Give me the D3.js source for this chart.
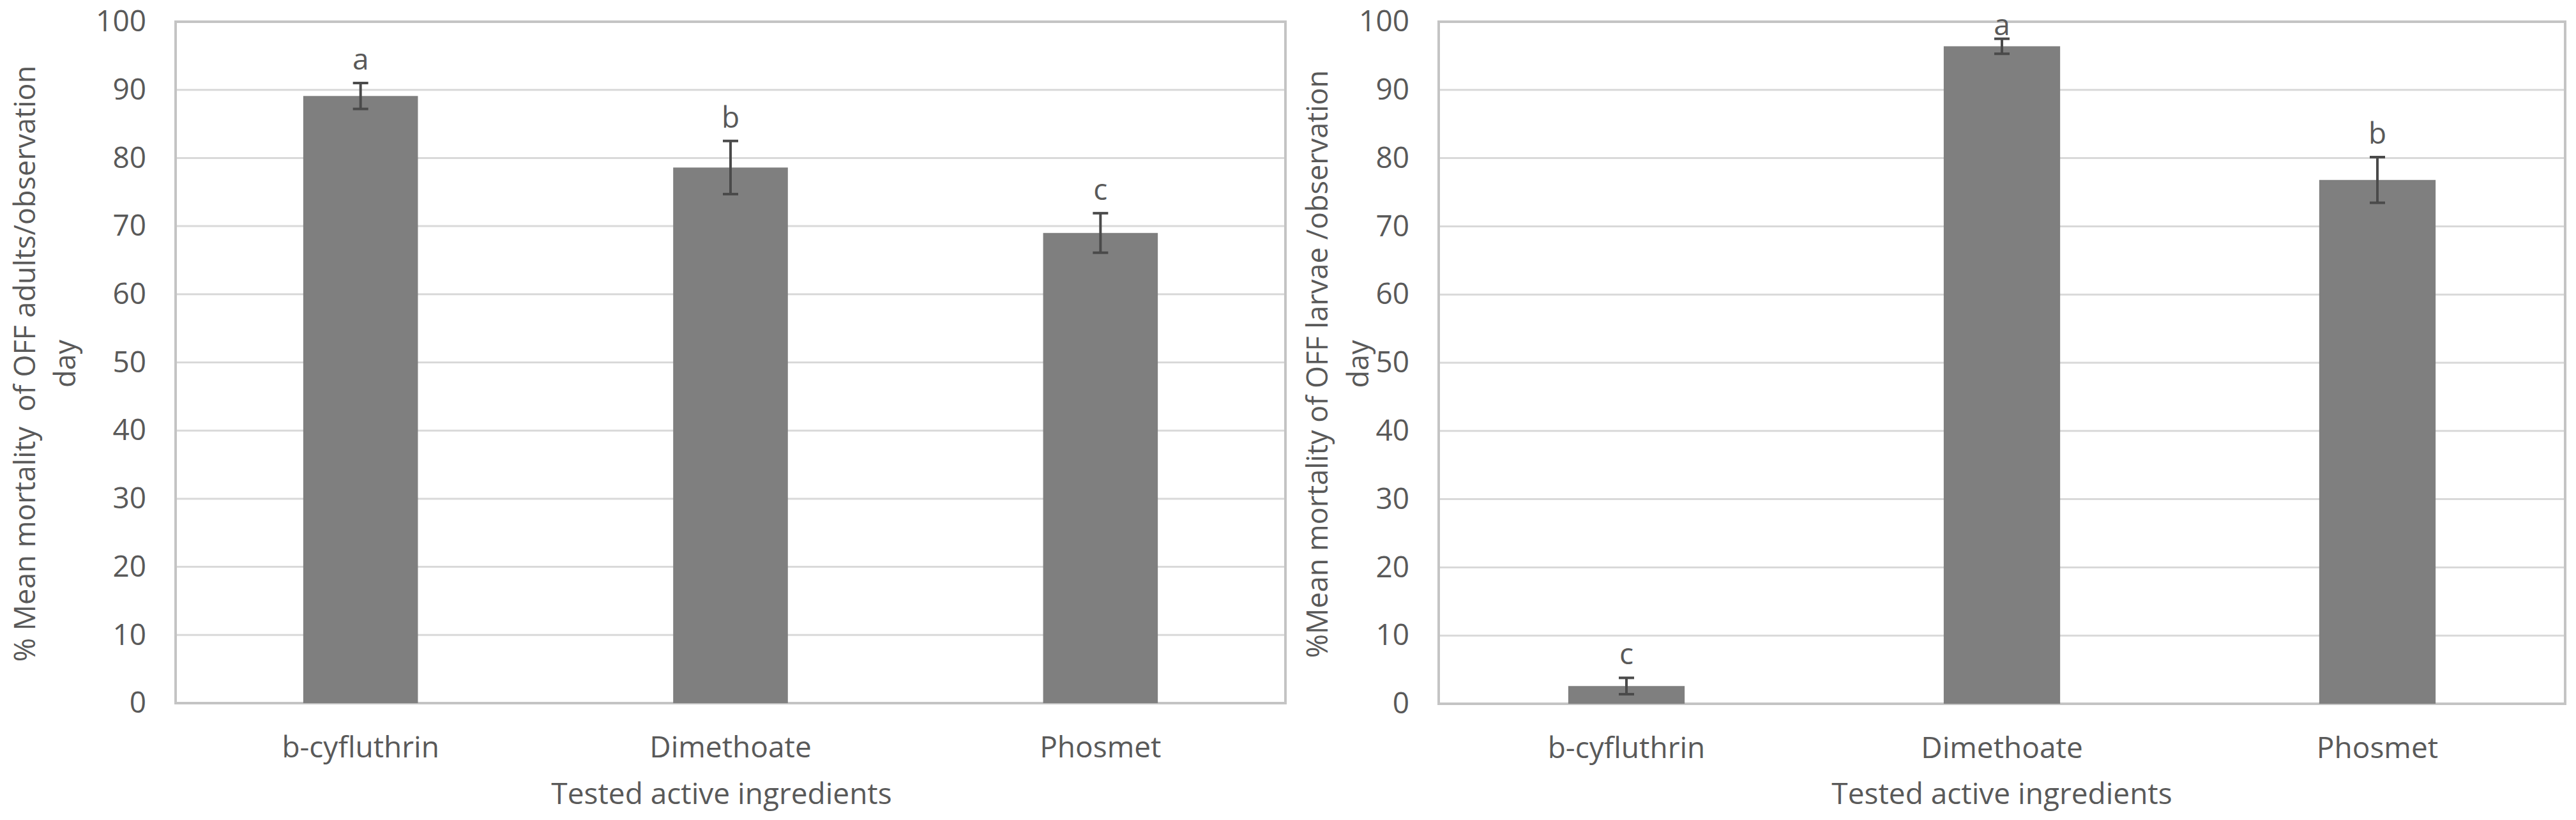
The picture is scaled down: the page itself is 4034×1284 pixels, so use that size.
<!DOCTYPE html>
<html>
<head>
<meta charset="utf-8">
<script src="https://cdn.jsdelivr.net/npm/d3@7"></script>
<style>
  html, body { margin: 0; padding: 0; background: #ffffff; }
  svg { display: block; }
  text { font-family: "Open Sans", "Noto Sans", sans-serif; fill: #595959; }
</style>
</head>
<body>
<svg id="chart" width="4034" height="1284"></svg>
<script>
// ---- data ----
const categories = ["b-cyfluthrin", "Dimethoate", "Phosmet"];
const adultMeans = [89.1, 78.6, 69.0];
const adultErrors = [1.9, 3.9, 2.9];
const adultLetters = ["a", "b", "c"];
const larvaeMeans = [2.6, 96.4, 76.8];
const larvaeErrors = [1.2, 1.1, 3.35];
const larvaeLetters = ["c", "a", "b"];
const yTicks = [0, 10, 20, 30, 40, 50, 60, 70, 80, 90, 100];
const xTitle = "Tested active ingredients";
const adultYTitle = ["% Mean mortality  of OFF adults/observation", "day"];
const larvaeYTitle = ["%Mean mortality of OFF larvae /observation", "day"];

// ---- layout ----
const svg = d3.select("#chart");
const FONT = 46;

function panel(cfg) {
  const g = svg.append("g");
  const x = d3.scaleBand().domain(categories)
    .range([cfg.left, cfg.right]).paddingInner(0.69).paddingOuter(0.345);
  const y = d3.scaleLinear().domain([0, 100]).range([cfg.bottom, cfg.top]);

  // gridlines
  g.append("g").selectAll("line").data(yTicks.filter(t => t > 0 && t < 100)).join("line")
    .attr("x1", cfg.left).attr("x2", cfg.right)
    .attr("y1", d => y(d)).attr("y2", d => y(d))
    .attr("stroke", "#d9d9d9").attr("stroke-width", 3);

  // plot border
  g.append("rect")
    .attr("x", cfg.left).attr("y", cfg.top)
    .attr("width", cfg.right - cfg.left).attr("height", cfg.bottom - cfg.top)
    .attr("fill", "none").attr("stroke", "#c4c4c4").attr("stroke-width", 4);

  // bars
  const data = categories.map((c, i) => ({ c, m: cfg.means[i], e: cfg.errors[i], l: cfg.letters[i] }));
  g.append("g").selectAll("rect").data(data).join("rect")
    .attr("x", d => x(d.c)).attr("width", x.bandwidth())
    .attr("y", d => y(d.m)).attr("height", d => y(0) - y(d.m))
    .attr("fill", "#7f7f7f");

  // error bars
  const eb = g.append("g").selectAll("g").data(data).join("g")
    .attr("stroke", "#4a4a4a").attr("stroke-width", 4);
  eb.append("line")
    .attr("x1", d => x(d.c) + x.bandwidth() / 2).attr("x2", d => x(d.c) + x.bandwidth() / 2)
    .attr("y1", d => y(d.m + d.e)).attr("y2", d => y(d.m - d.e));
  eb.append("line")
    .attr("x1", d => x(d.c) + x.bandwidth() / 2 - 12).attr("x2", d => x(d.c) + x.bandwidth() / 2 + 12)
    .attr("y1", d => y(d.m + d.e)).attr("y2", d => y(d.m + d.e));
  eb.append("line")
    .attr("x1", d => x(d.c) + x.bandwidth() / 2 - 12).attr("x2", d => x(d.c) + x.bandwidth() / 2 + 12)
    .attr("y1", d => y(d.m - d.e)).attr("y2", d => y(d.m - d.e));

  // significance letters (kept inside the plot area near the top)
  g.append("g").selectAll("text").data(data).join("text")
    .attr("x", d => x(d.c) + x.bandwidth() / 2)
    .attr("y", d => Math.max(y(d.m + d.e) - 21, cfg.top + 21))
    .attr("text-anchor", "middle")
    .style("font-size", FONT + "px")
    .text(d => d.l);

  // y axis
  const ya = g.append("g").attr("transform", `translate(${cfg.left},0)`)
    .call(d3.axisLeft(y).tickValues(yTicks).tickSize(0).tickPadding(46));
  ya.select(".domain").remove();
  ya.selectAll("text").style("font-size", FONT + "px").attr("fill", "#595959")
    .style("font-family", '"Open Sans", sans-serif');

  // x axis
  const xa = g.append("g").attr("transform", `translate(0,${cfg.bottom})`)
    .call(d3.axisBottom(x).tickSize(0));
  xa.select(".domain").remove();
  xa.selectAll("text").attr("y", 85).attr("dy", 0)
    .style("font-size", FONT + "px").attr("fill", "#595959")
    .style("font-family", '"Open Sans", sans-serif');

  // x title
  g.append("text")
    .attr("x", (cfg.left + cfg.right) / 2 + cfg.xTitleShift).attr("y", 1259)
    .attr("text-anchor", "middle")
    .style("font-size", FONT + "px")
    .text(xTitle);

  // y title (two lines)
  const cy = (cfg.top + cfg.bottom) / 2;
  cfg.yTitle.forEach((line, i) => {
    g.append("text")
      .attr("transform", `translate(${cfg.yTitleX[i]},${cy + 2}) rotate(-90)`)
      .attr("text-anchor", "middle")
      .style("font-size", "45px")
      .style("white-space", "pre")
      .attr("xml:space", "preserve")
      .text(line);
  });
}

panel({ left: 275, right: 2013, top: 34, bottom: 1101,
  means: adultMeans, errors: adultErrors, letters: adultLetters,
  yTitle: adultYTitle, yTitleX: [55, 118], xTitleShift: -14 });

panel({ left: 2253, right: 4017, top: 34, bottom: 1102,
  means: larvaeMeans, errors: larvaeErrors, letters: larvaeLetters,
  yTitle: larvaeYTitle, yTitleX: [2079, 2143], xTitleShift: 0 });
</script>
</body>
</html>
